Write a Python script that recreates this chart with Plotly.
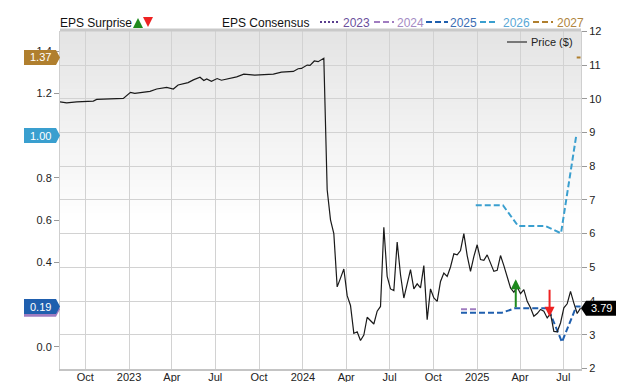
import pandas as pd
import plotly.graph_objects as go

# ---------------- data ----------------
price_early_dates = ["2022-08-09", "2022-08-23", "2022-09-13", "2022-10-18", "2022-10-25",
                     "2022-11-15", "2022-12-20", "2023-01-04", "2023-01-13", "2023-02-14",
                     "2023-02-28", "2023-03-21", "2023-04-04", "2023-04-14", "2023-05-05",
                     "2023-05-16", "2023-05-30", "2023-06-07", "2023-06-13", "2023-06-23",
                     "2023-07-05", "2023-07-14", "2023-08-01", "2023-08-15", "2023-08-30",
                     "2023-09-22", "2023-10-31", "2023-11-17", "2023-12-12", "2023-12-22",
                     "2023-12-29", "2024-01-10", "2024-01-16", "2024-01-25", "2024-02-02",
                     "2024-02-09"]
price_early_values = [9.91, 9.88, 9.91, 9.93, 9.98,
                      9.99, 10.01, 10.19, 10.16, 10.22,
                      10.29, 10.34, 10.29, 10.41, 10.48,
                      10.56, 10.64, 10.54, 10.59, 10.52,
                      10.60, 10.55, 10.61, 10.65, 10.73,
                      10.70, 10.73, 10.79, 10.81, 10.89,
                      10.90, 11.00, 10.99, 11.12, 11.10,
                      11.15]
price_weekly_start = "2024-02-14"
price_weekly_values = [11.20, 7.30, 6.41, 6.00, 4.42, 4.68, 4.95, 4.16, 3.87, 3.04,
                       3.09, 2.83, 2.99, 3.52, 3.42, 3.32, 3.70, 3.84, 6.19, 4.73,
                       4.36, 4.31, 5.75, 4.78, 4.09, 4.54, 4.93, 4.36, 4.51, 4.39,
                       5.05, 3.45, 4.36, 4.09, 3.99, 4.58, 4.83, 4.73, 5.01, 5.40,
                       5.37, 5.50, 6.00, 5.35, 4.88, 5.32, 5.67, 5.23, 5.21, 5.37,
                       5.15, 4.88, 4.91, 5.35, 5.05, 4.71, 4.39, 4.26, 4.42, 4.22,
                       4.34, 3.99, 3.80, 3.55, 3.63, 3.75, 3.70, 3.50, 3.63, 3.10,
                       3.09, 3.35, 3.80, 3.92, 4.29, 3.94, 3.63, 3.79]
last_price = 3.79

eps2023_dates = []
eps2023_values = []
eps2024_dates = ["2024-11-28", "2024-12-31"]
eps2024_values = [0.177, 0.177]
eps2025_dates = ["2024-11-28", "2025-02-22", "2025-03-21", "2025-05-30", "2025-06-28", "2025-07-28", "2025-08-06"]
eps2025_values = [0.161, 0.161, 0.182, 0.182, 0.022, 0.19, 0.19]
eps2026_dates = ["2024-12-29", "2025-02-24", "2025-03-28", "2025-05-24", "2025-06-26", "2025-07-28"]
eps2026_values = [0.67, 0.67, 0.572, 0.572, 0.537, 1.00]
eps2027_dates = ["2025-07-29", "2025-08-06"]
eps2027_values = [1.37, 1.37]

surprise_dates = ["2025-03-23", "2025-06-02"]
surprise_from = [0.18, 0.277]
surprise_to = [0.32, 0.142]

label_values = [1.37, 1.00, 0.177, 0.19]
label_texts = ["1.37", "1.00", "", "0.19"]
label_colors = ["#b07f2e", "#3a9fcf", "#a07cc0", "#1f5fae"]

left_tick_vals = [0.0, 0.4, 0.6, 0.8, 1.2, 1.4]

x_tick_vals = ["2022-10-01", "2023-01-01", "2023-04-01", "2023-07-01", "2023-10-01", "2024-01-01",
               "2024-04-01", "2024-07-01", "2024-10-01", "2025-01-01", "2025-04-01", "2025-07-01"]
x_tick_text = ["Oct", "2023", "Apr", "Jul", "Oct", "2024", "Apr", "Jul", "Oct", "2025", "Apr", "Jul"]

series_names = ["2023", "2024", "2025", "2026", "2027"]
series_colors = ["#5a3f8f", "#a07cc0", "#1f5fae", "#3a9fcf", "#b07f2e"]
series_text_colors = ["#6a4f9c", "#a58bc4", "#3b6db4", "#5aa8d6", "#b08540"]

# ---------------- figure ----------------
FONT = "Liberation Sans, Arial, sans-serif"
fig = go.Figure()

weekly_dates = pd.date_range(price_weekly_start, periods=len(price_weekly_values), freq="7D")
price_x = list(pd.to_datetime(price_early_dates)) + list(weekly_dates)
price_y = price_early_values + price_weekly_values

fig.add_trace(go.Scatter(x=price_x, y=price_y, mode="lines", yaxis="y2",
                         line=dict(color="#1a1a1a", width=1.2), showlegend=False, hoverinfo="skip"))

eps_data = [(eps2023_dates, eps2023_values), (eps2024_dates, eps2024_values),
            (eps2025_dates, eps2025_values), (eps2026_dates, eps2026_values),
            (eps2027_dates, eps2027_values)]
for i, (d, v) in enumerate(eps_data):
    if not d:
        continue
    fig.add_trace(go.Scatter(x=d, y=v, mode="lines", yaxis="y",
                             line=dict(color=series_colors[i], width=2,
                                       dash="2px,2px" if i == 0 else "6px,3px"),
                             showlegend=False, hoverinfo="skip"))

shapes = []
annotations = []

# background gradient
nb = 30
top, bottom = 1.0, 0.42
for k in range(nb):
    y1 = top - (top - bottom) * k / nb
    y0 = top - (top - bottom) * (k + 1) / nb
    t = k / (nb - 1)
    c = int(229 + (255 - 229) * t)
    shapes.append(dict(type="rect", xref="paper", yref="paper", x0=0, x1=1, y0=y0, y1=y1 + 0.002,
                       fillcolor=f"rgb({c},{c},{c})", line=dict(width=0), layer="below"))

# thick top border
shapes.append(dict(type="line", xref="paper", yref="paper", x0=0, x1=1, y0=1.003, y1=1.003,
                   line=dict(color="#c9c9c9", width=3)))

# surprise arrows
surprise_colors = ["#1e8a1e", "#ee2222"]
for i, d in enumerate(surprise_dates):
    annotations.append(dict(x=d, y=surprise_to[i], ax=d, ay=surprise_from[i], xref="x", yref="y",
                            axref="x", ayref="y", text="", showarrow=True, arrowhead=2,
                            arrowsize=1, arrowwidth=2, arrowcolor=surprise_colors[i]))

# left value labels
for v, txt, col in zip(label_values, label_texts, label_colors):
    shapes.append(dict(type="path", xref="paper", yref="y", xsizemode="pixel", ysizemode="pixel",
                       xanchor=0, yanchor=v, path="M -36,-7.5 L -4,-7.5 L 0,0 L -4,7.5 L -36,7.5 Z",
                       fillcolor=col, line=dict(width=0), layer="above"))
    if txt:
        annotations.append(dict(x=0, y=v, xref="paper", yref="y", text=txt, showarrow=False,
                                xanchor="center", xshift=-20, font=dict(family=FONT, size=11, color="white")))

# right price label
shapes.append(dict(type="path", xref="paper", yref="y2", xsizemode="pixel", ysizemode="pixel",
                   xanchor=1, yanchor=last_price, path="M 0,0 L 5,7.5 L 35,7.5 L 35,-7.5 L 5,-7.5 Z",
                   fillcolor="#000000", line=dict(width=0), layer="above"))
annotations.append(dict(x=1, y=last_price, xref="paper", yref="y2", text=f"{last_price:.2f}",
                        showarrow=False, xanchor="center", xshift=20,
                        font=dict(family=FONT, size=11, color="white")))

# legend row (positions measured in page pixels, relative to the plot area)
def px_x(px):
    return (px - 60) / 521.0

def px_y(py):
    return (369 - py) / 338.0

ly = px_y(23)
annotations.append(dict(x=px_x(60), y=ly, xref="paper", yref="paper", text="EPS Surprise",
                        showarrow=False, xanchor="left", yanchor="middle", xshift=-2,
                        font=dict(family=FONT, size=12, color="#111")))
annotations.append(dict(x=px_x(138), y=px_y(18), xref="paper", yref="paper", text="", showarrow=True,
                        ax=0, ay=9, arrowhead=2, arrowsize=1, arrowwidth=2, arrowcolor="#1e8a1e"))
annotations.append(dict(x=px_x(148), y=px_y(27), xref="paper", yref="paper", text="", showarrow=True,
                        ax=0, ay=-9, arrowhead=2, arrowsize=1, arrowwidth=2, arrowcolor="#ee2222"))
annotations.append(dict(x=px_x(222), y=ly, xref="paper", yref="paper", text="EPS Consensus",
                        showarrow=False, xanchor="left", yanchor="middle", xshift=-2,
                        font=dict(family=FONT, size=12, color="#111")))
sym_x = [(320, 339), (374, 394), (426, 448), (480, 498), (533, 553)]
txt_x = [343, 397, 450, 503, 557]
for i, name in enumerate(series_names):
    shapes.append(dict(type="line", xref="paper", yref="paper", x0=px_x(sym_x[i][0]), x1=px_x(sym_x[i][1]),
                       y0=px_y(22), y1=px_y(22),
                       line=dict(color=series_colors[i], width=2, dash="2px,2px" if i == 0 else "6px,3px")))
    annotations.append(dict(x=px_x(txt_x[i]), y=ly, xref="paper", yref="paper", text=name,
                            showarrow=False, xanchor="left", yanchor="middle", xshift=-2,
                            font=dict(family=FONT, size=12, color=series_text_colors[i])))

# price legend
shapes.append(dict(type="line", xref="paper", yref="paper", x0=px_x(507), x1=px_x(527),
                   y0=px_y(42), y1=px_y(42), line=dict(color="#777", width=2)))
annotations.append(dict(x=px_x(531), y=px_y(42), xref="paper", yref="paper", text="Price ($)",
                        showarrow=False, xanchor="left", yanchor="middle", xshift=-2,
                        font=dict(family=FONT, size=11, color="#222")))

fig.update_layout(
    width=640, height=382,
    margin=dict(l=52, r=67, t=23, b=21, autoexpand=False),
    paper_bgcolor="white", plot_bgcolor="white",
    font=dict(family=FONT, size=11, color="#222"),
    showlegend=False,
    shapes=shapes, annotations=annotations,
    xaxis=dict(type="date", range=["2022-08-09", "2025-08-07"], tickvals=x_tick_vals, ticktext=x_tick_text,
               showgrid=True, gridcolor="#d2d2d2", gridwidth=1, showline=True, linecolor="#c4c4c4",
               linewidth=2, mirror=False, ticks="", zeroline=False, automargin=False,
               ticklabelstandoff=-3,
               tickfont=dict(family=FONT, size=11, color="#222")),
    yaxis=dict(range=[-0.1056, 1.4955], tickvals=left_tick_vals, tickformat=".1f", showgrid=False,
               zeroline=False, showline=True, linecolor="#cfcfcf", linewidth=1, ticks="outside",
               ticklen=5, tickcolor="#999", automargin=False,
               tickfont=dict(family=FONT, size=11, color="#222")),
    yaxis2=dict(range=[1.985, 12.01], overlaying="y", side="right", dtick=1, tick0=2,
                showgrid=True, gridcolor="#d2d2d2", gridwidth=1, zeroline=False, showline=True,
                linecolor="#cfcfcf", linewidth=1, ticks="outside", ticklen=5, tickcolor="#999",
                automargin=False, tickfont=dict(family=FONT, size=11, color="#222")),
)

fig.write_html("out.html")
